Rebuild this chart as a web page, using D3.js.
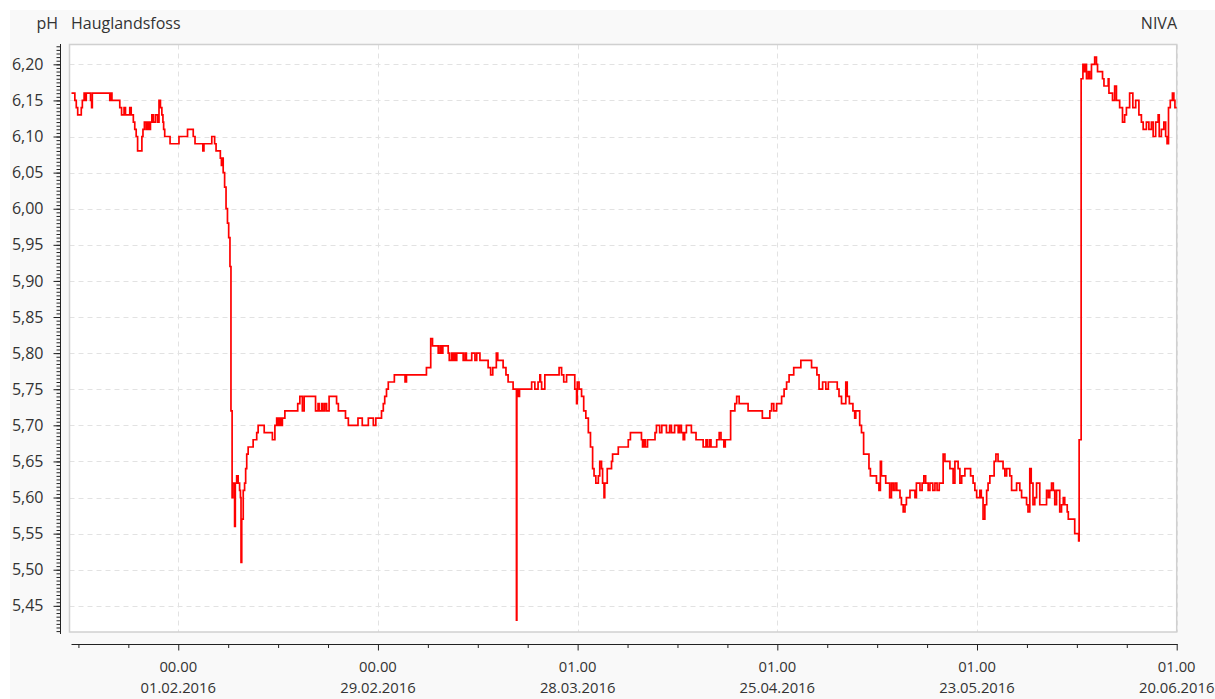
<!DOCTYPE html>
<html><head><meta charset="utf-8">
<script src="https://cdn.jsdelivr.net/npm/d3@7"></script>
<style>
html,body{margin:0;padding:0;background:#fff;}
svg{display:block;font-family:"Open Sans","Noto Sans",sans-serif;}
</style></head><body>
<svg id="chart" width="1215" height="699"></svg>
<script>
// Time in days after 01.02.2016 00:00, pH readings (step data)
const sampleDays = [
 -14.97, -14.5, -14.3, -14.1, -13.6, -13.45, -13.2, -13.0, -12.9, -12.3,
 -12.15, -12.05, -9.6, -9.45, -9.3, -8.2, -7.95, -7.6, -7.4, -6.8,
 -6.6, -6.3, -6.1, -5.9, -5.7, -5.1, -4.95, -4.75, -4.5, -4.3,
 -4.1, -3.9, -3.7, -3.5, -3.2, -2.9, -2.7, -2.5, -2.3, -2.15,
 -2.05, -1.9, -1.15, 0.1, 1.3, 2.1, 2.35, 3.45, 3.6, 4.7,
 5.1, 5.3, 5.9, 6.05, 6.2, 6.3, 6.5, 6.7, 6.9, 7.07,
 7.25, 7.39, 7.55, 7.65, 7.9, 8.0, 8.19, 8.4, 8.6, 8.72,
 8.8, 8.9, 9.11, 9.3, 9.45, 9.6, 9.8, 10.5, 11.0, 11.2,
 12.05, 13.2, 13.55, 13.8, 14.0, 14.2, 14.4, 14.6, 14.95, 16.75,
 17.05, 17.4, 17.65, 19.25, 19.6, 19.75, 20.1, 20.3, 20.55, 20.8,
 21.15, 22.2, 22.45, 23.45, 23.85, 25.2, 25.8, 26.65, 27.35, 27.7,
 28.5, 28.75, 28.95, 29.2, 29.45, 30.3, 31.8, 32.0, 34.8, 35.4,
 35.65, 36.45, 36.7, 36.9, 37.1, 37.85, 38.0, 38.3, 38.5, 38.7,
 38.9, 39.05, 39.95, 40.2, 40.4, 41.15, 41.6, 41.85, 42.3, 43.45,
 43.8, 44.1, 44.6, 44.8, 45.55, 45.95, 46.25, 46.95, 47.42, 47.48,
 47.6, 47.7, 47.85, 49.55, 50.0, 50.45, 50.7, 50.8, 50.95, 51.4,
 53.4, 53.75, 54.05, 54.45, 55.6, 55.85, 55.95, 56.2, 56.55, 56.85,
 57.15, 57.5, 57.8, 58.1, 58.3, 58.55, 58.9, 59.1, 59.35, 59.5,
 59.7, 59.8, 60.15, 60.75, 60.9, 61.7, 63.1, 63.4, 64.95, 65.1,
 65.3, 65.5, 65.8, 66.85, 67.05, 67.5, 67.8, 68.45, 68.9, 69.15,
 69.6, 70.1, 70.3, 70.55, 70.8, 71.0, 71.25, 71.95, 72.6, 73.6,
 74.0, 74.2, 74.5, 74.7, 75.5, 75.85, 76.1, 76.5, 76.7, 77.45,
 78.05, 78.3, 78.65, 79.9, 81.9, 82.95, 83.2, 83.5, 83.9, 84.6,
 84.95, 85.3, 85.65, 86.3, 87.3, 88.8, 89.55, 89.85, 90.35, 90.8,
 91.15, 92.4, 92.65, 93.0, 93.6, 93.8, 94.1, 94.6, 94.85, 95.0,
 95.55, 95.8, 96.1, 96.85, 97.05, 97.9, 98.25, 98.45, 98.6, 99.2,
 99.75, 100.0, 100.25, 100.5, 100.75, 101.2, 101.4, 101.65, 101.9, 102.1,
 102.6, 103.3, 103.5, 104.0, 104.3, 104.55, 104.8, 105.15, 105.4, 105.8,
 106.1, 106.4, 106.7, 107.25, 107.5, 108.2, 108.65, 108.9, 109.35, 109.6,
 109.85, 110.3, 111.1, 111.45, 111.7, 111.95, 112.4, 112.6, 112.85, 113.1,
 113.35, 113.55, 113.8, 114.4, 114.65, 114.95, 115.65, 115.9, 116.15, 116.6,
 116.85, 117.55, 118.0, 118.25, 118.95, 119.15, 119.4, 119.6, 119.85, 120.1,
 120.35, 120.8, 121.75, 122.0, 122.2, 122.45, 122.7, 122.9, 123.15, 123.6,
 123.85, 124.1, 124.3, 124.65, 124.8, 125.7, 126.25, 126.32, 126.6, 126.85,
 127.0, 127.15, 127.35, 127.6, 127.8, 128.05, 128.5, 128.75, 128.9, 129.6,
 129.8, 130.4, 130.5, 131.0, 131.3, 131.55, 132.0, 132.4, 132.7, 132.95,
 133.4, 133.85, 134.25, 134.7, 135.05, 135.3, 135.75, 136.1, 136.45, 136.7,
 137.05, 137.4, 137.55, 137.85, 138.2, 138.45, 138.65, 138.85, 139.1, 139.4,
 139.6, 139.75, 140.0
];
const sampleValues = [
 6.16, 6.15, 6.14, 6.13, 6.14, 6.15, 6.16, 6.15, 6.16, 6.15,
 6.14, 6.16, 6.15, 6.16, 6.15, 6.14, 6.13, 6.14, 6.13, 6.14,
 6.13, 6.12, 6.11, 6.10, 6.08, 6.10, 6.11, 6.12, 6.11, 6.12,
 6.11, 6.12, 6.13, 6.12, 6.13, 6.12, 6.15, 6.14, 6.13, 6.12,
 6.11, 6.10, 6.09, 6.10, 6.11, 6.10, 6.09, 6.08, 6.09, 6.10,
 6.09, 6.08, 6.07, 6.06, 6.07, 6.05, 6.03, 6.00, 5.98, 5.96,
 5.92, 5.72, 5.60, 5.62, 5.56, 5.62, 5.63, 5.62, 5.61, 5.60,
 5.51, 5.57, 5.61, 5.62, 5.64, 5.66, 5.67, 5.68, 5.69, 5.70,
 5.69, 5.68, 5.70, 5.71, 5.70, 5.71, 5.70, 5.71, 5.72, 5.73,
 5.74, 5.72, 5.74, 5.72, 5.73, 5.72, 5.73, 5.72, 5.73, 5.72,
 5.74, 5.73, 5.72, 5.71, 5.70, 5.71, 5.70, 5.71, 5.70, 5.71,
 5.72, 5.73, 5.74, 5.75, 5.76, 5.77, 5.76, 5.77, 5.78, 5.82,
 5.81, 5.80, 5.81, 5.80, 5.81, 5.80, 5.79, 5.80, 5.79, 5.80,
 5.79, 5.80, 5.79, 5.80, 5.79, 5.80, 5.79, 5.80, 5.79, 5.78,
 5.77, 5.78, 5.80, 5.79, 5.78, 5.77, 5.76, 5.75, 5.43, 5.74,
 5.75, 5.74, 5.75, 5.76, 5.75, 5.76, 5.77, 5.76, 5.75, 5.77,
 5.78, 5.77, 5.76, 5.77, 5.75, 5.73, 5.76, 5.75, 5.74, 5.72,
 5.71, 5.69, 5.67, 5.64, 5.63, 5.62, 5.63, 5.65, 5.64, 5.62,
 5.60, 5.62, 5.64, 5.65, 5.66, 5.67, 5.68, 5.69, 5.68, 5.67,
 5.68, 5.67, 5.68, 5.69, 5.70, 5.69, 5.70, 5.69, 5.70, 5.69,
 5.70, 5.69, 5.70, 5.69, 5.68, 5.69, 5.70, 5.69, 5.68, 5.67,
 5.68, 5.67, 5.68, 5.67, 5.68, 5.69, 5.68, 5.67, 5.68, 5.72,
 5.73, 5.74, 5.73, 5.72, 5.71, 5.72, 5.73, 5.72, 5.73, 5.74,
 5.75, 5.76, 5.77, 5.78, 5.79, 5.78, 5.77, 5.75, 5.76, 5.75,
 5.76, 5.75, 5.74, 5.73, 5.76, 5.74, 5.73, 5.72, 5.71, 5.72,
 5.70, 5.69, 5.66, 5.64, 5.63, 5.62, 5.61, 5.65, 5.63, 5.62,
 5.60, 5.62, 5.61, 5.62, 5.61, 5.60, 5.59, 5.58, 5.59, 5.60,
 5.61, 5.60, 5.62, 5.61, 5.62, 5.63, 5.62, 5.61, 5.62, 5.61,
 5.62, 5.61, 5.62, 5.66, 5.65, 5.64, 5.62, 5.65, 5.64, 5.62,
 5.63, 5.64, 5.63, 5.62, 5.61, 5.60, 5.61, 5.60, 5.57, 5.59,
 5.61, 5.62, 5.63, 5.65, 5.66, 5.65, 5.64, 5.63, 5.64, 5.63,
 5.61, 5.62, 5.61, 5.60, 5.59, 5.58, 5.64, 5.62, 5.59, 5.60,
 5.62, 5.59, 5.61, 5.60, 5.61, 5.62, 5.61, 5.59, 5.61, 5.58,
 5.59, 5.60, 5.59, 5.58, 5.57, 5.55, 5.54, 5.68, 6.18, 6.20,
 6.19, 6.20, 6.18, 6.19, 6.18, 6.20, 6.21, 6.20, 6.19, 6.18,
 6.17, 6.18, 6.16, 6.15, 6.17, 6.15, 6.14, 6.12, 6.13, 6.14,
 6.16, 6.14, 6.15, 6.13, 6.12, 6.11, 6.12, 6.11, 6.12, 6.10,
 6.12, 6.13, 6.10, 6.11, 6.12, 6.10, 6.09, 6.14, 6.15, 6.16,
 6.15, 6.14, 6.14
];

const yTickValues = [5.45, 5.50, 5.55, 5.60, 5.65, 5.70, 5.75, 5.80, 5.85, 5.90, 5.95, 6.00, 6.05, 6.10, 6.15, 6.20];
const xTickDays = [0, 28, 56, 84, 112, 140];
const xTickTimes = ["00.00", "00.00", "01.00", "01.00", "01.00", "01.00"];
const xTickDates = ["01.02.2016", "29.02.2016", "28.03.2016", "25.04.2016", "23.05.2016", "20.06.2016"];
const headerUnit = "pH";
const headerStation = "Hauglandsfoss";
const headerSource = "NIVA";

const svg = d3.select("#chart");
const textColor = "#333";
const plot = {left: 69.5, top: 44.5, right: 1176.7, bottom: 632};

const x = d3.scaleLinear().domain([-14.97, 140]).range([71.5, 1176.7]);
const y = d3.scaleLinear().domain([5.415, 6.228]).range([631.1, 44.1]);

// panel background
svg.append("rect").attr("x", 10).attr("y", 10).attr("width", 1205).attr("height", 689).attr("fill", "#f9f9f9");
svg.append("rect").attr("x", plot.left).attr("y", plot.top)
  .attr("width", plot.right - plot.left).attr("height", plot.bottom - plot.top).attr("fill", "#fff");

// grid
const grid = svg.append("g").attr("stroke", "#e2e2e2").attr("stroke-width", 1).attr("stroke-dasharray", "5,4");
grid.selectAll("line.h").data(yTickValues).join("line")
  .attr("x1", plot.left).attr("x2", plot.right)
  .attr("y1", d => Math.round(y(d)) + 0.5).attr("y2", d => Math.round(y(d)) + 0.5);
grid.selectAll("line.v").data(xTickDays).join("line")
  .attr("y1", plot.top).attr("y2", plot.bottom)
  .attr("x1", d => Math.round(x(d)) + 0.5).attr("x2", d => Math.round(x(d)) + 0.5);

// plot border
svg.append("rect").attr("x", plot.left).attr("y", plot.top)
  .attr("width", plot.right - plot.left).attr("height", plot.bottom - plot.top)
  .attr("fill", "none").attr("stroke", "#d0d0d0").attr("stroke-width", 1.5);

// data line
const pts = sampleDays.map((d, i) => [d, sampleValues[i]]);
const line = d3.line().x(d => x(d[0])).y(d => y(d[1])).curve(d3.curveStepAfter);
svg.append("path")
  .attr("d", line(pts)).attr("fill", "none").attr("stroke", "#ff0000")
  .attr("stroke-width", 1.7).attr("stroke-linejoin", "miter");

// Y axis
const yMinor = d3.range(5.415, 6.2281, 0.005).map(v => Math.round(v * 1000) / 1000).filter(v => Math.round(v*1000) % 5 === 0);
const yAxisG = svg.append("g").attr("transform", "translate(60,0)");
yAxisG.call(d3.axisLeft(y).tickValues(yMinor).tickSize(3.5).tickSizeOuter(0).tickFormat(""));
yAxisG.select(".domain").remove();
const yMajorG = svg.append("g").attr("transform", "translate(60,0)");
yMajorG.call(d3.axisLeft(y).tickValues(yTickValues).tickSize(6.5).tickSizeOuter(0).tickPadding(10)
  .tickFormat(d => d.toFixed(2).replace(".", ",")));
yMajorG.select(".domain").remove();
svg.append("line").attr("x1", 60.5).attr("x2", 60.5).attr("y1", 44).attr("y2", 634)
  .attr("stroke", "#222").attr("stroke-width", 1);
svg.selectAll("g .tick line").attr("stroke", "#222");
yMajorG.selectAll("text").attr("font-size", 16).attr("fill", textColor)
  .attr("font-family", "'Open Sans','Noto Sans',sans-serif");

// X axis
const xMinor = d3.range(-14, 141, 7).filter(d => !xTickDays.includes(d));
const xAxisG = svg.append("g").attr("transform", "translate(0,644)");
xAxisG.call(d3.axisBottom(x).tickValues(xMinor).tickSize(4).tickSizeOuter(0).tickFormat(""));
xAxisG.select(".domain").remove();
const xMajorG = svg.append("g").attr("transform", "translate(0,644)");
xMajorG.call(d3.axisBottom(x).tickValues(xTickDays).tickSize(6.5).tickSizeOuter(0).tickFormat(""));
xMajorG.select(".domain").remove();
svg.append("line").attr("x1", 71.5).attr("x2", 1177.5).attr("y1", 644.5).attr("y2", 644.5)
  .attr("stroke", "#222").attr("stroke-width", 1);
svg.selectAll("g .tick line").attr("stroke", "#222");

const xl = svg.append("g").attr("font-size", 14.8).attr("fill", textColor).attr("text-anchor", "middle");
xl.selectAll("text.t").data(xTickDays).join("text")
  .attr("x", d => x(d)).attr("y", 672).text((d, i) => xTickTimes[i]);
xl.selectAll("text.d").data(xTickDays).join("text")
  .attr("x", d => x(d)).attr("y", 693).text((d, i) => xTickDates[i]);

// header
const hd = svg.append("g").attr("font-size", 16).attr("fill", textColor);
hd.append("text").attr("x", 36.5).attr("y", 29).text(headerUnit);
hd.append("text").attr("x", 71).attr("y", 29).text(headerStation);
hd.append("text").attr("x", 1177).attr("y", 29).attr("text-anchor", "end").text(headerSource);
</script>
</body></html>
